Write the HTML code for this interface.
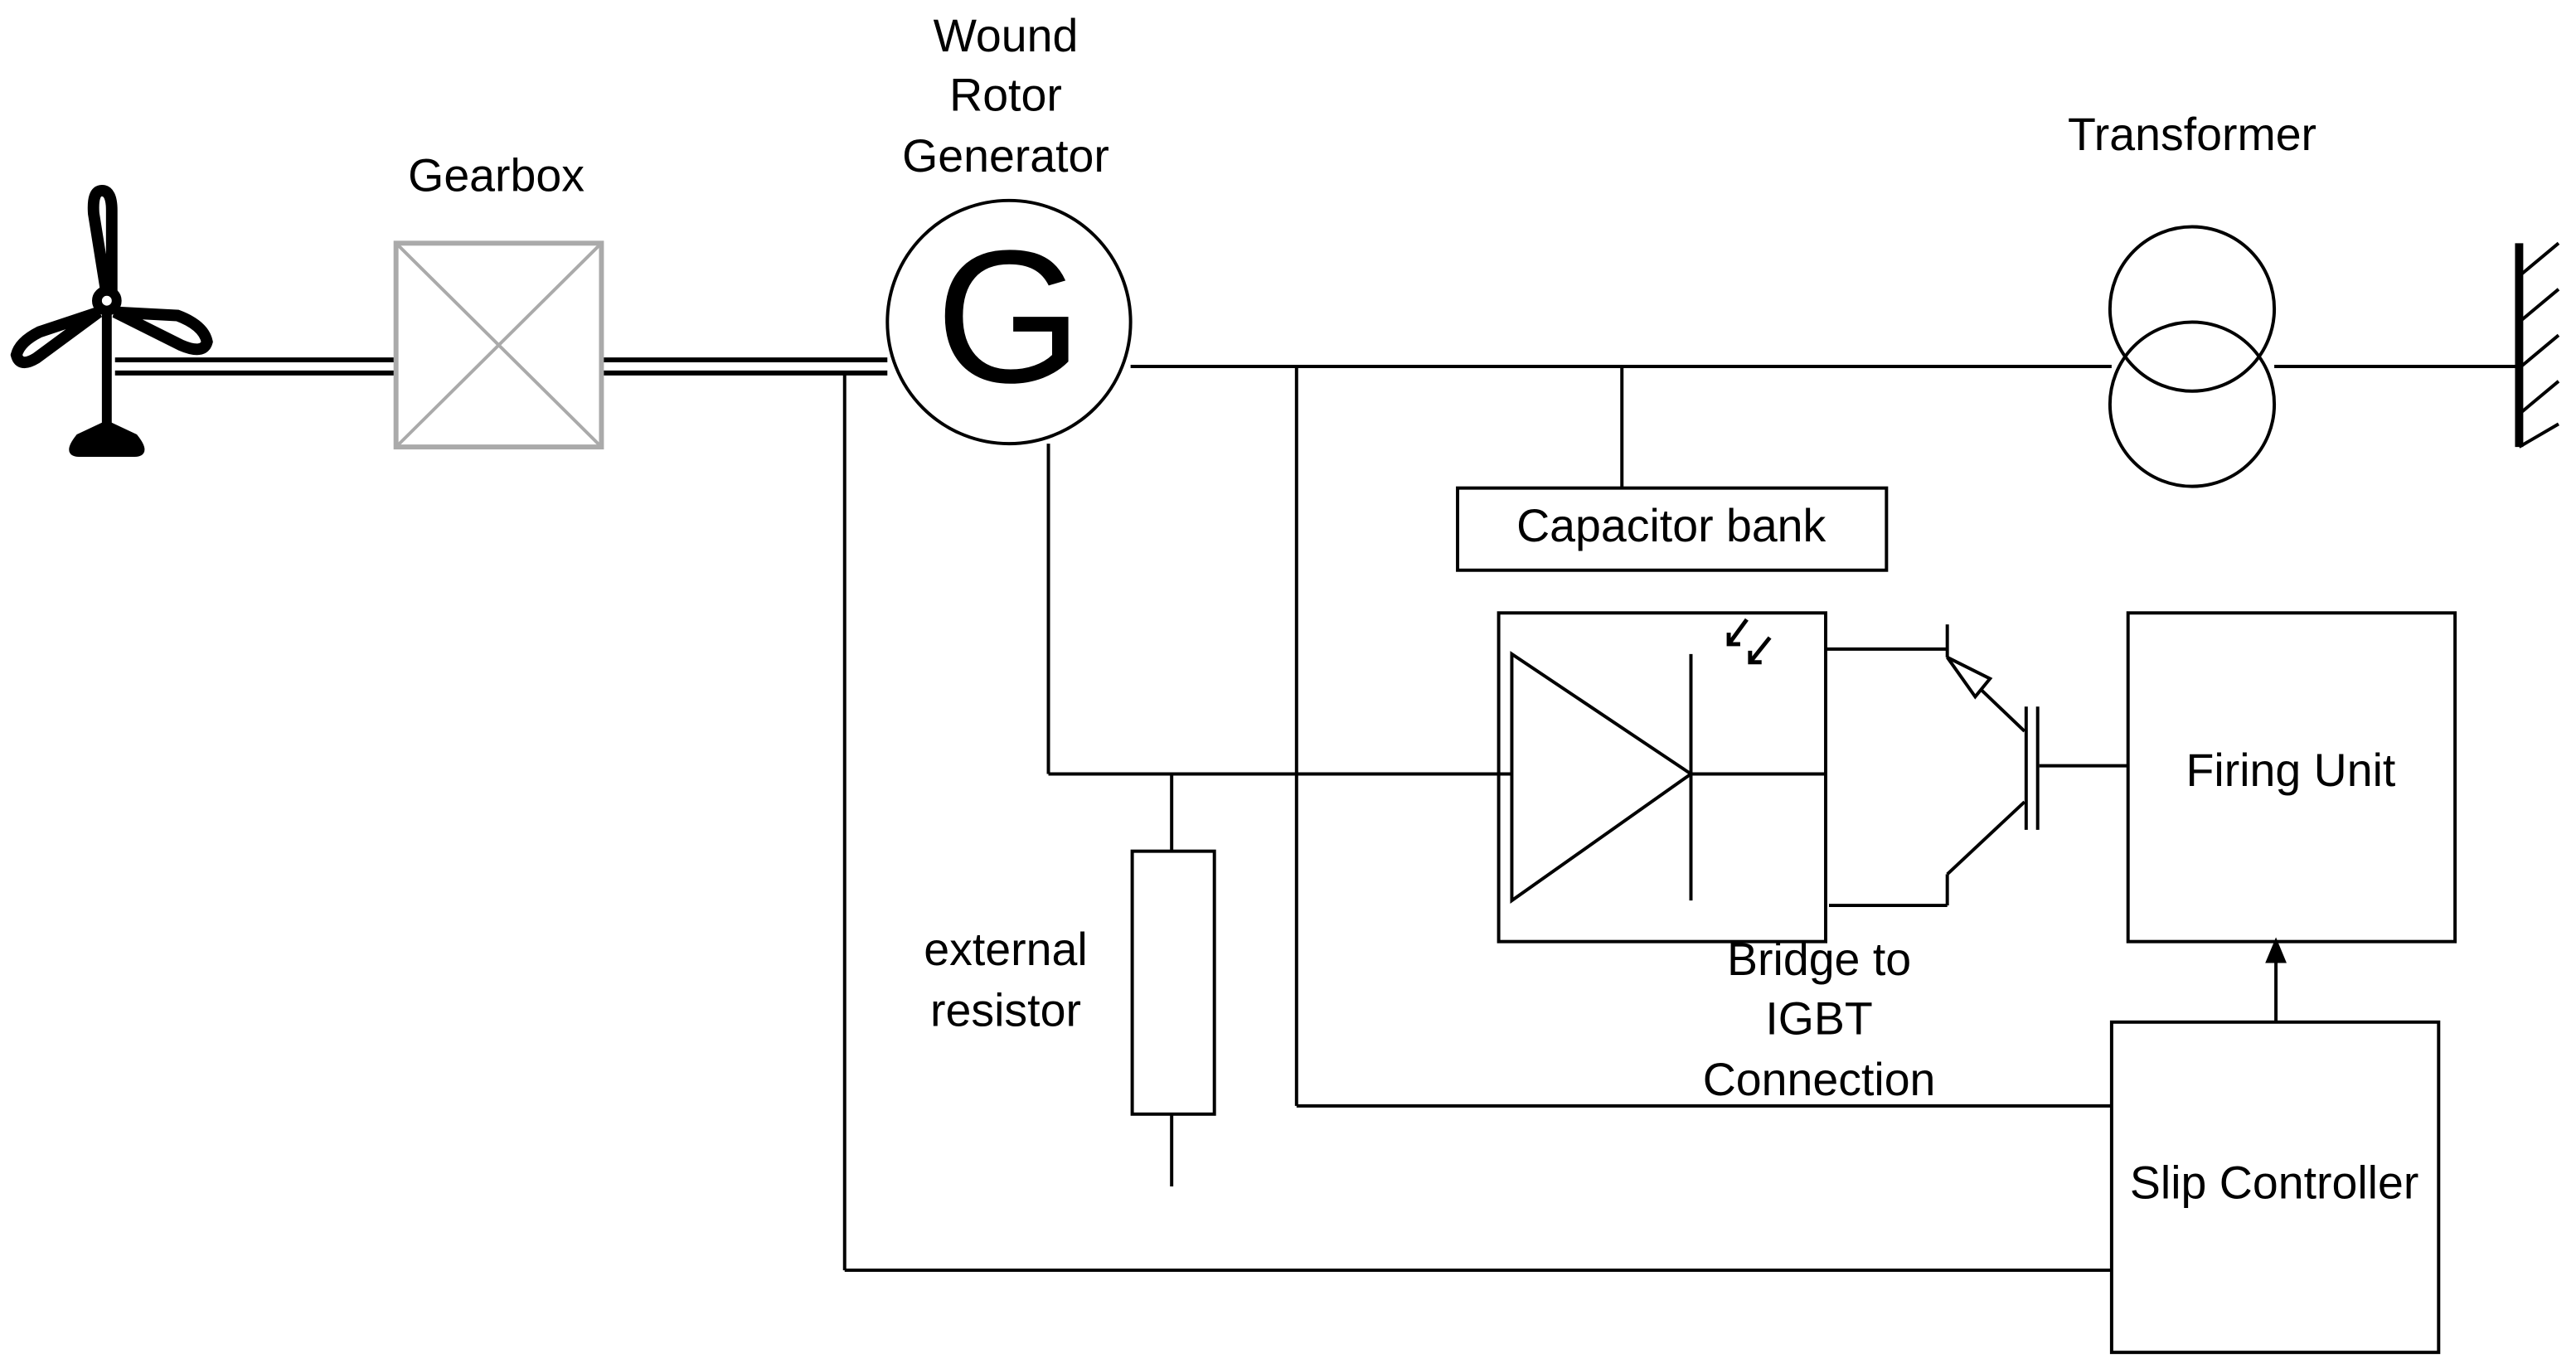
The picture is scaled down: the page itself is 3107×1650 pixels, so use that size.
<!DOCTYPE html>
<html><head><meta charset="utf-8"><style>
html,body{margin:0;padding:0;background:#fff;}
svg{display:block;}
text{font-family:"Liberation Sans",Arial,sans-serif;font-size:28px;fill:#000;text-anchor:middle;dominant-baseline:middle;}
</style></head><body>
<svg width="3107" height="1650" viewBox="0 0 1567.6 832.5" preserveAspectRatio="none" xmlns="http://www.w3.org/2000/svg">
<g fill="none" stroke="#000" stroke-width="2">
<!-- turbine -->
<line x1="65" y1="185" x2="65" y2="262" stroke-width="6"/>
<path d="M65,180 L57,130 Q56,116 62,116 Q68,116 68,128 L68,180" stroke-width="7" fill="#fff"/>
<path d="M60,190 L22,218 Q12,224 10,216 Q12,208 24,202 Z" stroke-width="7" fill="#fff"/>
<path d="M70,190 L110,210 Q124,216 126,208 Q124,198 108,192 Z" stroke-width="7" fill="#fff"/>
<circle cx="65" cy="183" r="6" stroke-width="6" fill="#fff"/>
<path d="M65,258 L48,266 Q40,276 48,276 L82,276 Q90,276 82,266 Z" stroke-width="4" fill="#000"/>
<!-- shaft -->
<line x1="70" y1="219" x2="240" y2="219" stroke-width="3"/>
<line x1="70" y1="227" x2="240" y2="227" stroke-width="3"/>
<line x1="366" y1="219" x2="540" y2="219" stroke-width="3"/>
<line x1="366" y1="227" x2="540" y2="227" stroke-width="3"/>
<!-- gearbox -->
<g stroke="#aaa"><rect x="241" y="148" width="125" height="124" stroke-width="3"/><line x1="241" y1="148" x2="366" y2="272"/><line x1="366" y1="148" x2="241" y2="272"/></g>
<!-- generator -->
<circle cx="614" cy="196" r="74"/>
<!-- lines -->
<line x1="688" y1="223" x2="1285" y2="223"/>
<circle cx="1334" cy="188" r="50"/>
<circle cx="1334" cy="246" r="50"/>
<line x1="1384" y1="223" x2="1532" y2="223"/>
<line x1="1533" y1="148" x2="1533" y2="272" stroke-width="5"/>
<path d="M1533,168 L1557,148 M1533,196 L1557,176 M1533,224 L1557,204 M1533,252 L1557,232 M1533,272 L1557,258"/>
<line x1="789" y1="223" x2="789" y2="673"/>
<line x1="789" y1="673" x2="1285" y2="673"/>
<line x1="987" y1="223" x2="987" y2="297"/>
<rect x="887" y="297" width="261" height="50"/>
<line x1="638" y1="270" x2="638" y2="471"/>
<line x1="638" y1="471" x2="920" y2="471"/>
<line x1="713" y1="471" x2="713" y2="518"/>
<rect x="689" y="518" width="50" height="160"/>
<line x1="713" y1="678" x2="713" y2="722"/>
<!-- bridge -->
<rect x="912" y="373" width="199" height="200"/>
<polygon points="920,398 920,548 1029,471"/>
<line x1="1029" y1="398" x2="1029" y2="548"/>
<line x1="1029" y1="471" x2="1111" y2="471"/>
<path d="M1063,377 L1052,392 M1052,385 L1052,392 L1059,392" stroke-width="2.5"/>
<path d="M1077,388 L1065,403 M1065,396 L1065,403 L1072,403" stroke-width="2.5"/>
<!-- igbt -->
<line x1="1111" y1="395" x2="1185" y2="395"/>
<line x1="1185" y1="380" x2="1185" y2="400"/>
<line x1="1185" y1="400" x2="1232" y2="445"/>
<path d="M1185,400 L1211,413 L1202,424 Z" fill="#fff"/>
<line x1="1233" y1="430" x2="1233" y2="505"/>
<line x1="1240" y1="430" x2="1240" y2="505"/>
<line x1="1232" y1="488" x2="1185" y2="532"/>
<line x1="1185" y1="532" x2="1185" y2="551"/>
<line x1="1113" y1="551" x2="1185" y2="551"/>
<line x1="1241" y1="466" x2="1295" y2="466"/>
<rect x="1295" y="373" width="199" height="200"/>
<line x1="1385" y1="622" x2="1385" y2="582"/>
<polygon points="1385,573 1380,585 1390,585" fill="#000"/>
<rect x="1285" y="622" width="199" height="201"/>
<line x1="514" y1="227" x2="514" y2="773"/>
<line x1="514" y1="773" x2="1285" y2="773"/>
</g>
<text x="614" y="202" style="font-size:115px">G</text>
<text x="612" y="24">Wound</text>
<text x="612" y="60">Rotor</text>
<text x="612" y="97">Generator</text>
<text x="302" y="109">Gearbox</text>
<text x="1334" y="84">Transformer</text>
<text x="1017" y="322">Capacitor bank</text>
<text x="612" y="580">external</text>
<text x="612" y="617">resistor</text>
<text x="1107" y="586">Bridge to</text>
<text x="1107" y="622">IGBT</text>
<text x="1107" y="659">Connection</text>
<text x="1394" y="471">Firing Unit</text>
<text x="1384" y="722">Slip Controller</text>
</svg>
</body></html>
